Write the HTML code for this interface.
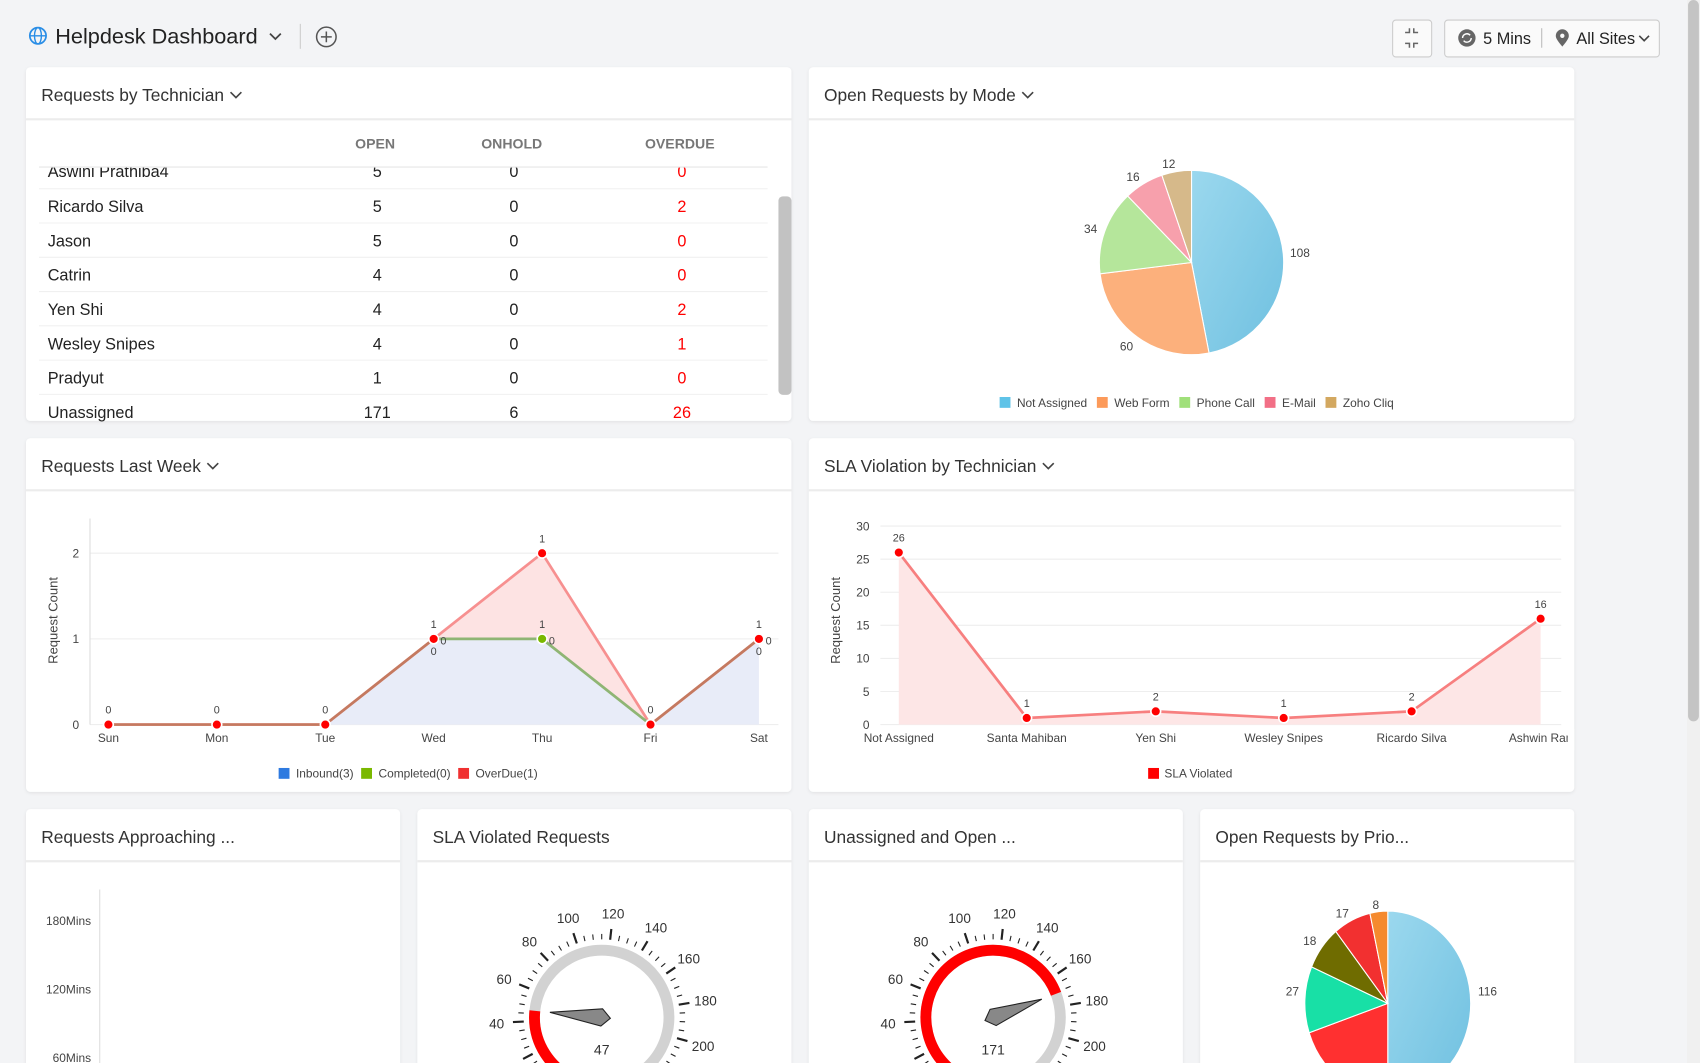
<!DOCTYPE html>
<html><head><meta charset="utf-8"><style>
html,body{margin:0;padding:0;background:#f3f4f6;overflow:hidden}
svg{display:block;font-family:"Liberation Sans",sans-serif}
</style></head><body>
<svg id="s" width="1700" height="1063" viewBox="0 0 1568 980" preserveAspectRatio="none" xmlns="http://www.w3.org/2000/svg">
<defs>
<filter id="sh" x="-5%" y="-5%" width="110%" height="110%"><feDropShadow dx="0" dy="1" stdDeviation="1.5" flood-color="#000" flood-opacity="0.08"/></filter>
<linearGradient id="gb" x1="0" y1="0" x2="1" y2="1"><stop offset="0" stop-color="#9bd8ee"/><stop offset="1" stop-color="#6fc0e0"/></linearGradient>
</defs>
<rect width="1568" height="980" fill="#f3f4f6"/>
<circle cx="35" cy="33" r="7.5" fill="none" stroke="#2a8ee6" stroke-width="1.6"/>
<ellipse cx="35" cy="33" rx="3.2" ry="7.5" fill="none" stroke="#2a8ee6" stroke-width="1.3"/>
<line x1="27.5" y1="33" x2="42.5" y2="33" stroke="#2a8ee6" stroke-width="1.3"/>
<text x="51" y="40" font-size="20" fill="#222">Helpdesk Dashboard</text>
<path d="M249 31 l5 5 l5 -5" fill="none" stroke="#444" stroke-width="1.6"/>
<line x1="277" y1="22" x2="277" y2="45" stroke="#ccc"/>
<circle cx="301" cy="34" r="9" fill="none" stroke="#555" stroke-width="1.4"/>
<path d="M301 29v10M296 34h10" stroke="#555" stroke-width="1.4"/>
<rect x="1284.5" y="18.5" width="36" height="34" rx="3" fill="#fafafa" stroke="#ccc"/>
<path d="M1296 30h4v-4M1308 30h-4v-4M1296 40h4v4M1308 40h-4v4" fill="none" stroke="#666" stroke-width="1.4"/>
<rect x="1332.5" y="18.5" width="198" height="34" rx="3" fill="#fafafa" stroke="#ccc"/>
<circle cx="1353" cy="35" r="8" fill="#666"/>
<path d="M1349 35a4 4 0 0 1 7-2.5M1357 35a4 4 0 0 1 -7 2.5" fill="none" stroke="#fff" stroke-width="1.3"/>
<text x="1368" y="40.5" font-size="15" fill="#222">5 Mins</text>
<line x1="1422" y1="26" x2="1422" y2="44" stroke="#bbb"/>
<path d="M1441 43c-5-6-6-8-6-10a6 6 0 0 1 12 0c0 2-1 4-6 10z" fill="#666"/><circle cx="1441" cy="33" r="2" fill="#fafafa"/>
<text x="1454" y="40.5" font-size="15" fill="#222">All Sites</text>
<path d="M1512 33l4.5 4.5l4.5 -4.5" fill="none" stroke="#444" stroke-width="1.5"/>
<rect x="1556" y="0" width="12" height="980" fill="#f0f0f0"/>
<rect x="1557" y="0" width="10" height="665" rx="5" fill="#c4c4c4"/>
<g id="panels"></g>
<g id="content"></g>
</svg>
<script>
const NS="http://www.w3.org/2000/svg";
const P=document.getElementById('panels'), C=document.getElementById('content');
function el(t,a,parent,txt){const e=document.createElementNS(NS,t);for(const k in a)e.setAttribute(k,a[k]);if(txt!==undefined)e.textContent=txt;(parent||C).appendChild(e);return e;}
function panel(x,y,w,h,title,chev){
 el('rect',{x:x,y:y,width:w,height:h,rx:4,fill:'#fff',filter:'url(#sh)'},P);
 el('line',{x1:x,y1:y+48,x2:x+w,y2:y+48,stroke:'#ececec','stroke-width':2},P);
 const t=el('text',{x:x+14,y:y+31,'font-size':16,fill:'#333'},P,title);
 if(chev){const tw=t.getComputedTextLength();el('path',{d:`M${x+14+tw+6} ${y+23} l5 5 l5 -5`,fill:'none',stroke:'#444','stroke-width':1.5},P);}
}
panel(24,62,706,326,'Requests by Technician',1);
panel(746,62,706,326,'Open Requests by Mode',1);
panel(24,404,706,326,'Requests Last Week',1);
panel(746,404,706,326,'SLA Violation by Technician',1);
panel(24,746,345,260,'Requests Approaching ...');
panel(385,746,345,260,'SLA Violated Requests');
panel(746,746,345,260,'Unassigned and Open ...');
panel(1107,746,345,260,'Open Requests by Prio...');
[['OPEN',346],['ONHOLD',472],['OVERDUE',627]].forEach(c=>el('text',{x:c[1],y:137,'font-size':13,fill:'#777','text-anchor':'middle','font-weight':'bold'},C,c[0]));
const rows=[['Aswini Prathiba4',5,0,0],['Ricardo Silva',5,0,2],['Jason',5,0,0],['Catrin',4,0,0],['Yen Shi',4,0,2],['Wesley Snipes',4,0,1],['Pradyut',1,0,0],['Unassigned',171,6,26]];
rows.forEach((r,i)=>{const y=163+i*31.6-(i==0?1:0);
 el('text',{x:44,y:y+1,'font-size':15,fill:'#222'},C,r[0]);
 el('text',{x:348,y:y+1,'font-size':15,fill:'#222','text-anchor':'middle'},C,r[1]);
 el('text',{x:474,y:y+1,'font-size':15,fill:'#222','text-anchor':'middle'},C,r[2]);
 el('text',{x:629,y:y+1,'font-size':15,fill:'#f00','text-anchor':'middle'},C,r[3]);
 if(i<7)el('line',{x1:36,y1:174+i*31.6,x2:708,y2:174+i*31.6,stroke:'#f0f0f0'});
});
el('rect',{x:24,y:148,width:706,height:6,fill:'#fff'});
el('line',{x1:36,y1:154,x2:708,y2:154,stroke:'#e6e6e6'});
el('rect',{x:718,y:181,width:12,height:183,rx:4,fill:'#c2c2c2'});
function pie(cx,cy,r,vals,cols,start,sx){sx=sx||1;const tot=vals.reduce((a,b)=>a+b,0);let a=start;
 vals.forEach((v,i)=>{const b=a+v/tot*2*Math.PI;
  const x1=cx+sx*r*Math.sin(a),y1=cy-r*Math.cos(a),x2=cx+sx*r*Math.sin(b),y2=cy-r*Math.cos(b);
  el('path',{d:`M${cx} ${cy}L${x1} ${y1}A${sx*r} ${r} 0 ${b-a>Math.PI?1:0} 1 ${x2} ${y2}Z`,fill:cols[i],stroke:'#fff','stroke-width':1});a=b;});}
pie(1099,242,85,[108,60,34,16,12],['url(#gb)','#fcb07c','#b5e69b','#f7a0ac','#d6b98a'],0);
[['108',1199,237],['60',1039,323],['34',1006,215],['16',1045,167],['12',1078,155]].forEach(l=>el('text',{x:l[1],y:l[2],'font-size':11,fill:'#444','text-anchor':'middle'},C,l[0]));
let lx=922;[['Not Assigned','#5fc3e8'],['Web Form','#fc9a5a'],['Phone Call','#a0e07a'],['E-Mail','#f26f86'],['Zoho Cliq','#d3a860']].forEach(l=>{el('rect',{x:lx,y:366,width:10,height:10,fill:l[1]});const t=el('text',{x:lx+16,y:375,'font-size':11,fill:'#444'},C,l[0]);lx+=16+t.getComputedTextLength()+9;});
pie(1280,925,85,[116,46,27,18,17,8],['url(#gb)','#ff3030','#18e0a6','#6f6c00','#f23030','#f58a2e'],0,0.9);
[['116',1372,918],['27',1192,918],['18',1208,871],['17',1238,846],['8',1269,838]].forEach(l=>el('text',{x:l[1],y:l[2],'font-size':11,fill:'#444','text-anchor':'middle'},C,l[0]));
[510,589,668].forEach(y=>el('line',{x1:83,y1:y,x2:718,y2:y,stroke:'#eee'}));
el('line',{x1:83,y1:478,x2:83,y2:668,stroke:'#ddd'});
[['2',510],['1',589],['0',668]].forEach(t=>el('text',{x:73,y:t[1]+4,'font-size':11,fill:'#444','text-anchor':'end'},C,t[0]));
el('text',{x:0,y:0,'font-size':12,fill:'#444','text-anchor':'middle',transform:'translate(53,572) rotate(-90)'},C,'Request Count');
const days=['Sun','Mon','Tue','Wed','Thu','Fri','Sat'];
days.forEach((d,i)=>el('text',{x:100+i*100,y:684,'font-size':11,fill:'#444','text-anchor':'middle'},C,d));
const Y=v=>668-79*v, X=i=>100+i*100;
const od=[0,0,0,1,2,0,1], inb=[0,0,0,1,1,0,1], odl=['0','0','0','1','1','0','1'];
const pts=a=>a.map((v,i)=>X(i)+','+Y(v)).join(' ');
el('polygon',{points:pts(inb)+` 700,668 100,668`,fill:'#e8ecf8'});
el('polygon',{points:'400,589 500,510 600,668 500,589',fill:'#fde3e3'});
el('polyline',{points:pts(od),fill:'none',stroke:'#f79090','stroke-width':2.5});
el('polyline',{points:'400,589 500,589 600,668',fill:'none',stroke:'#8fb574','stroke-width':2.5});
el('polyline',{points:'100,668 300,668 400,589',fill:'none',stroke:'#c47a60','stroke-width':2.5});
el('polyline',{points:'600,668 700,589',fill:'none',stroke:'#c47a60','stroke-width':2.5});
od.forEach((v,i)=>{el('circle',{cx:X(i),cy:Y(v),r:4.5,fill:'#f00',stroke:'#fff','stroke-width':1.5});el('text',{x:X(i),y:Y(v)-10,'font-size':10,fill:'#444','text-anchor':'middle'},C,odl[i]);});
el('circle',{cx:500,cy:589,r:4.5,fill:'#7ab800',stroke:'#fff','stroke-width':1.5});
[[400,604,'0'],[409,594,'0'],[500,579,'1'],[509,594,'0'],[700,604,'0'],[709,594,'0']].forEach(t=>el('text',{x:t[0],y:t[1],'font-size':10,fill:'#444','text-anchor':'middle'},C,t[2]));
lx=257;[['Inbound(3)','#2e7ae0'],['Completed(0)','#7ab800'],['OverDue(1)','#f03030']].forEach(l=>{el('rect',{x:lx,y:708,width:10,height:10,fill:l[1]});const t=el('text',{x:lx+16,y:717,'font-size':11,fill:'#444'},C,l[0]);lx+=16+t.getComputedTextLength()+7;});
for(let v=0;v<=30;v+=5){const y=668-v*6.1;el('line',{x1:812,y1:y,x2:1440,y2:y,stroke:'#eee'});el('text',{x:802,y:y+4,'font-size':11,fill:'#444','text-anchor':'end'},C,v);}
el('text',{x:0,y:0,'font-size':12,fill:'#444','text-anchor':'middle',transform:'translate(775,572) rotate(-90)'},C,'Request Count');
const sx=[829,947,1066,1184,1302,1421],sv=[26,1,2,1,2,16],sn=['Not Assigned','Santa Mahiban','Yen Shi','Wesley Snipes','Ricardo Silva','Ashwin Ran'];
const sp=sv.map((v,i)=>sx[i]+','+(668-v*6.1)).join(' ');
el('polygon',{points:sp+' 1421,668 829,668',fill:'#fde6e6'});
el('polyline',{points:sp,fill:'none',stroke:'#f77f7f','stroke-width':2.5});
sv.forEach((v,i)=>{const y=668-v*6.1;el('circle',{cx:sx[i],cy:y,r:4.5,fill:'#f00',stroke:'#fff','stroke-width':1.5});el('text',{x:sx[i],y:y-10,'font-size':10,fill:'#444','text-anchor':'middle'},C,v);el('text',{x:sx[i],y:684,'font-size':11,fill:'#444','text-anchor':'middle'},C,sn[i]);});
el('rect',{x:1446,y:672,width:6,height:20,fill:'#fff'});
el('rect',{x:1059,y:708,width:10,height:10,fill:'#f00'});el('text',{x:1074,y:717,'font-size':11,fill:'#444'},C,'SLA Violated');
el('line',{x1:92,y1:820,x2:92,y2:980,stroke:'#ddd'});
[['180Mins',853],['120Mins',916],['60Mins',979]].forEach(t=>el('text',{x:84,y:t[1],'font-size':11,fill:'#444','text-anchor':'end'},C,t[0]));
function gauge(cx,cy,val){
 const ang=v=>(v-115)*1.24*Math.PI/180;
 const arc=(r,a,b)=>`M${cx+r*Math.sin(a)} ${cy-r*Math.cos(a)}A${r} ${r} 0 ${b-a>Math.PI?1:0} 1 ${cx+r*Math.sin(b)} ${cy-r*Math.cos(b)}`;
 el('path',{d:arc(62,ang(-15),ang(245)),fill:'none',stroke:'#d2d2d2','stroke-width':10});
 el('path',{d:arc(62,ang(-15),ang(val)),fill:'none',stroke:'#f00','stroke-width':10});
 for(let v=0;v<=240;v+=5){const a=ang(v),r1=72,r2=v%20==0?82:77;el('line',{x1:cx+r1*Math.sin(a),y1:cy-r1*Math.cos(a),x2:cx+r2*Math.sin(a),y2:cy-r2*Math.cos(a),stroke:'#222','stroke-width':v%20==0?2:1});}
 for(let v=40;v<=200;v+=20){const a=ang(v),r=97;el('text',{x:cx+r*Math.sin(a),y:cy-r*Math.cos(a)+5,'font-size':12.5,fill:'#333','text-anchor':'middle'},C,v);}
 const a=ang(val),tx=cx+48*Math.sin(a),ty=cy-48*Math.cos(a),p=a+Math.PI/2,b=cx-8*Math.sin(a),bb=cy+8*Math.cos(a);
 el('polygon',{points:`${tx},${ty} ${cx+8*Math.sin(p)},${cy-8*Math.cos(p)} ${b},${bb} ${cx-8*Math.sin(p)},${cy+8*Math.cos(p)}`,fill:'#888',stroke:'#222','stroke-width':1});
 el('text',{x:cx,y:cy+34,'font-size':13,fill:'#333','text-anchor':'middle'},C,val);
}
gauge(555,938,47);
gauge(916,938,171);
</script>
</body></html>
